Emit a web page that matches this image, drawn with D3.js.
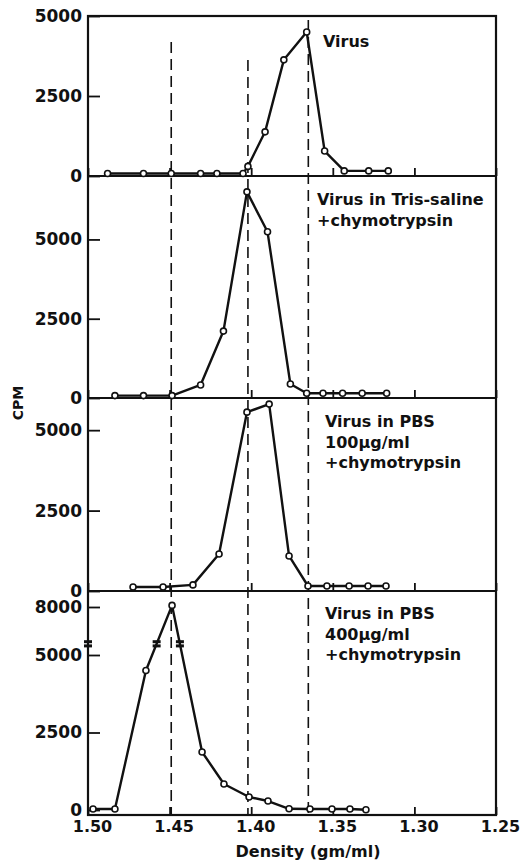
<!DOCTYPE html>
<html>
<head>
<meta charset="utf-8">
<script src="https://cdn.jsdelivr.net/npm/d3@7"></script>
<style>
body { margin: 0; background: #fff; }
text { font-family: "DejaVu Sans", sans-serif; font-weight: bold; fill: #111; }
</style>
</head>
<body>
<script>
//fractions: density (gm/ml) and CPM, one pair per panel
var density1 = [1.488, 1.466, 1.449, 1.431, 1.421, 1.405, 1.402, 1.3915, 1.380, 1.366, 1.355, 1.343, 1.328, 1.316];
var cpm1 = [80, 80, 80, 80, 80, 80, 300, 1380, 3630, 4500, 780, 160, 160, 160];

var density2 = [1.4835, 1.466, 1.4485, 1.431, 1.417, 1.4026, 1.390, 1.376, 1.366, 1.356, 1.344, 1.332, 1.317];
var cpm2 = [75, 75, 75, 410, 2110, 6500, 5240, 440, 150, 150, 150, 150, 150];

var density3 = [1.4724, 1.454, 1.4357, 1.4197, 1.4026, 1.389, 1.3768, 1.3652, 1.3536, 1.340, 1.3284, 1.3174];
var cpm3 = [125, 125, 190, 1150, 5560, 5810, 1090, 155, 155, 155, 155, 155];

var density4 = [1.4969, 1.4835, 1.4645, 1.4485, 1.4301, 1.4167, 1.4013, 1.3897, 1.3768, 1.364, 1.3505, 1.3395, 1.3297];
var cpm4 = [30, 30, 4500, 8050, 1870, 840, 420, 290, 40, 30, 30, 30, 10];

//panel captions
var captions = [
    ["Virus"],
    ["Virus in Tris-saline", "+chymotrypsin"],
    ["Virus in PBS", "100\u00b5g/ml", "+chymotrypsin"],
    ["Virus in PBS", "400\u00b5g/ml", "+chymotrypsin"]
];

//tick values
var xTicks = [1.50, 1.45, 1.40, 1.35, 1.30, 1.25];
var yTicks = [[0, 2500, 5000], [0, 2500, 5000], [0, 2500, 5000], [0, 2500, 5000, 8000]];
var yMax = [5000, 7000, 6000, 8500];

//densities of the dashed reference lines
var markers = [1.449, 1.402, 1.365];
//axis break on the bottom panel (CPM)
var breakCpm = 5700;

var series = [
    d3.zip(density1, cpm1),
    d3.zip(density2, cpm2),
    d3.zip(density3, cpm3),
    d3.zip(density4, cpm4)
];

//layout
var left = 88, right = 496;
var panelTop = [16, 176, 398, 591];
var panelBottom = [176, 398, 591, 815];
var markerTop = [42, 60, 20];
var captionPos = [[323, 47], [317, 205], [325, 427], [325, 619]];
var lineGap = 20.5;

var svg = d3.select("body").append("svg")
    .attr("width", 520)
    .attr("height", 861);

var x = d3.scaleLinear().domain([1.50, 1.25]).range([left, right]);

//one y scale per panel, the bottom one is broken between 5000 and 8000
var ys = [0, 1, 2].map(function (i) {
    return d3.scaleLinear().domain([0, yMax[i]]).range([panelBottom[i], panelTop[i]]);
});
ys.push(d3.scaleLinear()
    .domain([0, 5000, 8000, yMax[3]])
    .range([panelBottom[3] - 5, panelBottom[3] - 160, panelBottom[3] - 208, panelTop[3]]));

//dashed reference lines
svg.selectAll(".marker")
    .data(markers)
    .enter().append("line")
    .attr("class", "marker")
    .attr("x1", d => x(d))
    .attr("x2", d => x(d))
    .attr("y1", (d, i) => markerTop[i])
    .attr("y2", panelBottom[3])
    .attr("stroke", "#111")
    .attr("stroke-width", 1.6)
    .attr("stroke-dasharray", "11,6");

//frame and panel dividers
svg.append("rect")
    .attr("x", left)
    .attr("y", panelTop[0])
    .attr("width", right - left)
    .attr("height", panelBottom[3] - panelTop[0])
    .attr("fill", "none")
    .attr("stroke", "#111")
    .attr("stroke-width", 2.2);

svg.selectAll(".divider")
    .data(panelBottom.slice(0, 3))
    .enter().append("line")
    .attr("class", "divider")
    .attr("x1", left)
    .attr("x2", right)
    .attr("y1", d => d)
    .attr("y2", d => d)
    .attr("stroke", "#111")
    .attr("stroke-width", 2.2);

series.forEach(function (data, i) {
    var y = ys[i];

    //x ticks pointing up from the bottom of each panel, labels only under the last one
    var xa = svg.append("g")
        .attr("transform", "translate(0," + panelBottom[i] + ")")
        .call(d3.axisBottom(x)
            .tickValues(xTicks)
            .tickSizeInner(-8)
            .tickSizeOuter(0)
            .tickPadding(6)
            .tickFormat(d3.format(".2f")));
    xa.select(".domain").remove();
    xa.selectAll("line").attr("stroke", "#111").attr("stroke-width", 1.8);
    if (i === 3) {
        xa.selectAll("text")
            .attr("font-size", 16)
            .attr("dx", 4);
    } else {
        xa.selectAll("text").remove();
    }

    //y ticks
    var ya = svg.append("g")
        .attr("transform", "translate(" + left + ",0)")
        .call(d3.axisLeft(y)
            .tickValues(yTicks[i])
            .tickSizeInner(-12)
            .tickSizeOuter(0)
            .tickPadding(6)
            .tickFormat(d3.format("d")));
    ya.select(".domain").remove();
    ya.selectAll("line").attr("stroke", "#111").attr("stroke-width", 1.8);
    ya.selectAll("text").attr("font-size", 17);

    //profile line
    var line = d3.line()
        .x(d => x(d[0]))
        .y(d => y(d[1]));

    svg.append("path")
        .datum(data)
        .attr("d", line)
        .attr("fill", "none")
        .attr("stroke", "#111")
        .attr("stroke-width", 2.4)
        .attr("stroke-linejoin", "round");

    //open circles for the fractions
    svg.selectAll(".pt" + i)
        .data(data)
        .enter().append("circle")
        .attr("class", "pt" + i)
        .attr("cx", d => x(d[0]))
        .attr("cy", d => y(d[1]))
        .attr("r", 3)
        .attr("fill", "#fff")
        .attr("stroke", "#111")
        .attr("stroke-width", 1.6);

    //caption
    svg.append("text")
        .attr("x", captionPos[i][0])
        .attr("y", captionPos[i][1])
        .attr("font-size", 16)
        .selectAll("tspan")
        .data(captions[i])
        .enter().append("tspan")
        .attr("x", captionPos[i][0])
        .attr("dy", (d, j) => j === 0 ? 0 : lineGap)
        .text(d => d);
});

//break marks on the bottom panel: on the axis and where the curve crosses it
var y4 = ys[3];
var yb = y4(breakCpm);
var breaks = [left];
var pts = series[3].map(d => [x(d[0]), y4(d[1])]);
for (var k = 1; k < pts.length; k++) {
    var a = pts[k - 1], b = pts[k];
    if ((a[1] - yb) * (b[1] - yb) < 0) {
        breaks.push(a[0] + (yb - a[1]) / (b[1] - a[1]) * (b[0] - a[0]));
    }
}
breaks.forEach(function (bx) {
    [-3.6, 0.6].forEach(function (off) {
        svg.append("rect")
            .attr("x", bx - 4)
            .attr("y", yb + off)
            .attr("width", 8)
            .attr("height", 3)
            .attr("fill", "#111");
    });
});

//axis titles
svg.append("text")
    .attr("transform", "translate(23,403) rotate(-90)")
    .attr("text-anchor", "middle")
    .attr("font-size", 14)
    .text("CPM");

svg.append("text")
    .attr("x", 308)
    .attr("y", 857)
    .attr("text-anchor", "middle")
    .attr("font-size", 16)
    .text("Density (gm/ml)");
</script>
</body>
</html>
